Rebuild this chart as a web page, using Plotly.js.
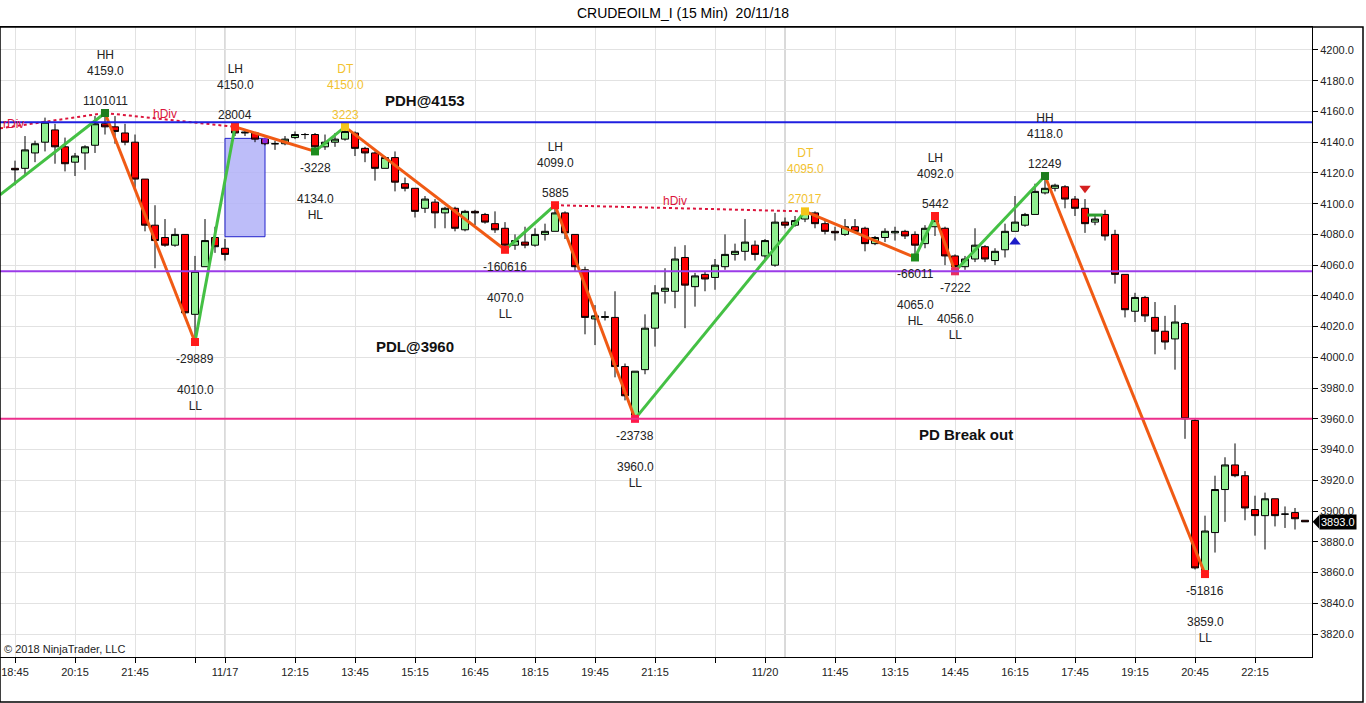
<!DOCTYPE html>
<html><head><meta charset="utf-8">
<script src="https://cdn.plot.ly/plotly-3.0.1.min.js"></script>
<style>html,body{margin:0;padding:0;background:#fff;}#chart{width:1366px;height:703px;}</style>
</head><body><div id="chart"></div>
<script>
// 15-minute bars, left to right
const openP  = [4123,4123,4133,4140,4148,4137,4127,4133,4138,4152,4150,4146,4140,4116,4086,4078,4073,4080,4028,4059,4078,4071,4149,4146,4146,4142,4139,4139,4143,4145,4145,4137,4140,4142,4146,4136,4133,4123,4130,4113,4110,4097,4101,4094,4097,4083,4095,4093,4087,4084,4073,4075,4073,4080,4082,4094,4080,4057,4025,4026,4026,3994,3961,3992,4019,4043,4043,4065,4046,4054,4052,4059,4067,4069,4073,4066,4060,4088,4086,4090,4094,4087,4082,4080,4085,4084,4074,4078,4081,4082,4080,4074,4085,4084,4066,4059,4064,4072,4063,4070,4082,4086,4093,4107,4110,4111,4103,4097,4088,4093,4080,4054,4030,4039,4026,4017,4012,4022,3959,3860,3886,3914,3930,3923,3901,3897,3908,3898,3899,3894];
const highP  = [4128,4144,4141,4156,4152,4143,4133,4138,4157,4159,4157,4152,4145,4116,4099,4090,4084,4080,4066,4090,4085,4077,4150,4148,4146,4143,4141,4144,4147,4146,4146,4145,4146,4150,4147,4137,4134,4131,4134,4117,4110,4105,4103,4098,4098,4096,4096,4094,4095,4088,4080,4085,4084,4087,4099,4095,4080,4059,4034,4030,4043,3996,3991,4028,4047,4058,4072,4073,4055,4056,4064,4080,4074,4090,4076,4077,4094,4091,4092,4095,4095,4089,4085,4090,4090,4085,4079,4084,4085,4083,4082,4086,4092,4085,4067,4066,4084,4073,4071,4087,4105,4094,4113,4118,4113,4112,4105,4103,4093,4096,4083,4054,4042,4040,4036,4027,4034,4023,3960,3897,3923,3935,3944,3926,3910,3912,3908,3903,3902,3894];
const lowP   = [4112,4118,4127,4134,4126,4121,4118,4122,4133,4145,4139,4138,4110,4082,4058,4072,4072,4026,4010,4059,4068,4063,4144,4144,4140,4138,4135,4138,4142,4142,4134,4135,4137,4141,4131,4127,4115,4123,4108,4108,4091,4094,4084,4084,4082,4082,4086,4087,4081,4070,4070,4071,4072,4076,4082,4077,4056,4015,4008,4024,3987,3972,3960,3989,4007,4035,4032,4019,4033,4043,4044,4057,4063,4063,4063,4063,4059,4084,4085,4088,4084,4080,4076,4079,4081,4069,4073,4075,4076,4077,4065,4071,4079,4060,4056,4057,4062,4062,4060,4065,4082,4085,4093,4106,4108,4097,4092,4081,4086,4076,4048,4026,4023,4023,4002,4005,3992,3947,3862,3859,3873,3893,3922,3894,3884,3875,3890,3889,3888,3893];
const closeP = [4122,4135,4139,4153,4137,4126,4131,4137,4152,4150,4147,4140,4116,4086,4076,4073,4080,4029,4056,4076,4072,4067,4146,4146.5,4142,4139,4139,4142,4145,4145,4137,4140,4142,4147,4136,4133,4123,4130,4114,4110,4095,4103,4094,4097,4084,4095,4094,4088,4083,4073,4076,4073,4080,4082,4094,4081,4059,4026,4027,4026.5,3994,3975,3991,4019,4042,4045,4064,4047,4053,4051,4060,4067,4069,4075,4067,4076,4088,4086,4089,4094,4087,4082,4081,4085,4082,4074,4078,4082,4082,4079,4073,4084,4089,4066,4059,4064,4073,4064,4069,4082,4088,4093,4108,4110,4112,4103,4097,4087,4090,4079,4054,4031,4039,4027,4017,4010,4023,3960,3863,3887,3914,3930,3923,3902,3897,3908,3897,3898,3895,3893];

const tickIdx  = [0,6,12,18,21,28,34,40,46,52,58,64,70,75,82,88,94,100,106,112,118,124];
const tickText = ['18:45','20:15','21:45','','11/17','12:15','13:45','15:15','16:45','18:15','19:45','21:15','','11/20','11:45','13:15','14:45','16:15','17:45','19:15','20:45','22:15'];
const sessionBreaks = [21, 77];

const levelPrices = [4153, 4056, 3960];
const levelColors = ['#1f1fe0', '#9b3be8', '#ec2f8c'];

// zigzag swing points (first point is where the line enters the chart)
const zigIdx   = [-1.5, 9, 18, 22, 30, 33, 49, 54, 62, 79, 90, 92, 94, 103, 119];
const zigPrice = [4105.7, 4159, 4010, 4150, 4134, 4150, 4070, 4099, 3960, 4095, 4065, 4092, 4056, 4118, 3859];
const swingType  = ['HH','LL','LH','HL','DT','LL','LH','LL','DT','HL','LH','LL','HH','LL'];
const swingCount = ['1101011','-29889','28004','-3228','3223','-160616','5885','-23738','27017','-66011','5442','-7222','12249','-51816'];
const swingDotColor = ['#1e7d1e','#ff1a1a','#ff2a1a','#1e8c1e','#f5c518','#ff1a1a','#ff1a1a','#ff1a4a','#f5c518','#1e8c1e','#ff1a1a','#e83060','#1e7d1e','#ff1a1a'];

// divergence dotted lines
const divFromIdx = [-1.5, 9, 54];
const divFromPrice = [4149, 4159, 4099];
const divToIdx = [9, 22, 79];
const divToPrice = [4159, 4150, 4095];
const divLabel = ['rDiv', 'hDiv', 'hDiv'];
const divLabelIdx = [-0.2, 15, 66];
const divLabelPrice = [4152, 4158.5, 4102];

// shaded zone
const zoneIdx = [21, 25];
const zonePrice = [4078.5, 4142.5];

// signal markers
const sigIdx = [100, 107, 108, 25];
const sigPrice = [4075, 4110, 4092.6, 4141];
const sigSymbol = ['triangle-up', 'triangle-down', 'line-ew', 'square'];
const sigColor = ['#1b1bc8', '#d42020', '#2e9e2e', '#8a2be2'];

// notes
const noteText = ['PDH@4153', 'PDL@3960', 'PD Break out'];
const noteIdx = [41, 40, 95.1];
const notePrice = [4167, 4007, 3950];

const FONT = 'Liberation Sans, Arial, sans-serif';
const GOLD = '#f2c230';
const xIdx = openP.map((_, i) => i);

const traces = [];
traces.push({
  type: 'candlestick', x: xIdx, open: openP, high: highP, low: lowP, close: closeP,
  increasing: {fillcolor: '#90ee90', line: {color: '#000', width: 1}},
  decreasing: {fillcolor: '#ff0000', line: {color: '#000', width: 1}},
  whiskerwidth: 0, hoverinfo: 'skip', showlegend: false
});

// zigzag segments
const upX = [], upY = [], dnX = [], dnY = [];
for (let i = 1; i < zigIdx.length; i++) {
  const up = zigPrice[i] > zigPrice[i - 1];
  const X = up ? upX : dnX, Y = up ? upY : dnY;
  X.push(zigIdx[i - 1], zigIdx[i], null);
  Y.push(zigPrice[i - 1], zigPrice[i], null);
}
traces.push({type: 'scatter', mode: 'lines', x: upX, y: upY, line: {color: '#44c044', width: 3}, hoverinfo: 'skip', showlegend: false});
traces.push({type: 'scatter', mode: 'lines', x: dnX, y: dnY, line: {color: '#f05a14', width: 3}, hoverinfo: 'skip', showlegend: false});

// divergence dotted lines
const dvX = [], dvY = [];
for (let i = 0; i < divFromIdx.length; i++) {
  dvX.push(divFromIdx[i], divToIdx[i], null);
  dvY.push(divFromPrice[i], divToPrice[i], null);
}
traces.push({type: 'scatter', mode: 'lines', x: dvX, y: dvY, line: {color: '#dc143c', width: 2, dash: 'dot'}, hoverinfo: 'skip', showlegend: false});

// swing dots
traces.push({type: 'scatter', mode: 'markers', x: zigIdx.slice(1), y: zigPrice.slice(1),
  marker: {symbol: 'square', size: 8, color: swingDotColor, line: {width: 0}}, hoverinfo: 'skip', showlegend: false});

// signal markers
for (let i = 0; i < sigIdx.length; i++) {
  const isLine = sigSymbol[i] === 'line-ew';
  traces.push({type: 'scatter', mode: 'markers', x: [sigIdx[i]], y: [sigPrice[i]],
    marker: {symbol: sigSymbol[i], size: isLine ? 11 : (sigSymbol[i] === 'square' ? 5 : 10), color: sigColor[i],
      line: {color: sigColor[i], width: isLine ? 3 : 0}}, hoverinfo: 'skip', showlegend: false});
}

const shapes = [];
// session break lines
sessionBreaks.forEach(b => shapes.push({type: 'line', xref: 'x', yref: 'paper', x0: b, x1: b, y0: 0, y1: 1,
  line: {color: '#b4b4b4', width: 1}, layer: 'between'}));
// zone
shapes.push({type: 'rect', xref: 'x', yref: 'y', x0: zoneIdx[0], x1: zoneIdx[1], y0: zonePrice[0], y1: zonePrice[1],
  fillcolor: 'rgba(178,178,248,0.85)', line: {color: '#2222cc', width: 1}, layer: 'between'});
// levels
levelPrices.forEach((p, i) => shapes.push({type: 'line', xref: 'paper', yref: 'y', x0: 0, x1: 1, y0: p, y1: p,
  line: {color: levelColors[i], width: 2}, layer: 'above'}));
// outer frame
shapes.push({type: 'rect', xref: 'paper', yref: 'paper', x0: 0, x1: 1363 / 1312, y0: -45 / 630, y1: 1,
  line: {color: '#000', width: 1.5}, fillcolor: 'rgba(0,0,0,0)'});
// price tag pointer
const lastClose = closeP[closeP.length - 1];
shapes.push({type: 'path', xref: 'paper', yref: 'y',
  path: `M 1.0005,${lastClose} L 1.0055,${lastClose + 4.5} L 1.0055,${lastClose - 4.5} Z`,
  fillcolor: '#000', line: {color: '#000', width: 0}});

const annotations = [];
for (let i = 1; i < zigIdx.length; i++) {
  const k = i - 1;
  const isHigh = zigPrice[i] > zigPrice[i - 1];
  const col = swingType[k] === 'DT' ? GOLD : '#222';
  const priceTxt = zigPrice[i].toFixed(1);
  annotations.push({x: zigIdx[i], y: zigPrice[i], xref: 'x', yref: 'y', showarrow: false,
    text: swingCount[k], yshift: isHigh ? 12 : -17, xanchor: 'center', yanchor: 'middle',
    font: {family: FONT, size: 12, color: col}});
  annotations.push({x: zigIdx[i], y: zigPrice[i], xref: 'x', yref: 'y', showarrow: false,
    text: isHigh ? `${swingType[k]}<br>${priceTxt}` : `${priceTxt}<br>${swingType[k]}`,
    yshift: isHigh ? 50 : -56, xanchor: 'center', yanchor: 'middle',
    font: {family: FONT, size: 12, color: col}});
}
for (let i = 0; i < divLabel.length; i++) {
  annotations.push({x: divLabelIdx[i], y: divLabelPrice[i], xref: 'x', yref: 'y', showarrow: false,
    text: divLabel[i], font: {family: FONT, size: 12, color: '#dc143c'}});
}
for (let i = 0; i < noteText.length; i++) {
  annotations.push({x: noteIdx[i], y: notePrice[i], xref: 'x', yref: 'y', showarrow: false,
    text: '<b>' + noteText[i] + '</b>', font: {family: FONT, size: 15, color: '#111'}});
}
annotations.push({x: 0, y: 0, xref: 'paper', yref: 'paper', xanchor: 'left', yanchor: 'bottom', xshift: 2, yshift: 0,
  showarrow: false, text: '© 2018 NinjaTrader, LLC', font: {family: FONT, size: 11, color: '#222'}});
annotations.push({x: 1, y: lastClose, xref: 'paper', yref: 'y', xanchor: 'left', yanchor: 'middle', xshift: 7,
  showarrow: false, text: lastClose.toFixed(1), bgcolor: '#000', borderpad: 1,
  font: {family: FONT, size: 11, color: '#fff'}});

const layout = {
  width: 1366, height: 703,
  margin: {l: 0, r: 54, t: 27, b: 46},
  paper_bgcolor: '#fff', plot_bgcolor: '#fff',
  font: {family: FONT, size: 11, color: '#222'},
  boxgap: 0.3, boxgroupgap: 0,
  title: {text: 'CRUDEOILM_I (15 Min)\u00a0\u00a020/11/18', font: {family: FONT, size: 14, color: '#000'},
    x: 0.5, xref: 'container', xanchor: 'center', y: 1 - 13 / 703, yref: 'container', yanchor: 'middle'},
  showlegend: false, hovermode: false, dragmode: false,
  xaxis: {range: [-1.5, 129.7], tickmode: 'array', tickvals: tickIdx, ticktext: tickText,
    ticks: 'outside', ticklen: 5, tickcolor: '#000', showgrid: true, gridcolor: '#e2e2e2', gridwidth: 1,
    showline: true, linecolor: '#000', linewidth: 1, mirror: true, zeroline: false,
    rangeslider: {visible: false}, tickfont: {family: FONT, size: 11, color: '#222'}, fixedrange: true},
  yaxis: {side: 'right', range: [3805.04, 4214.96], tick0: 3820, dtick: 20, tickformat: '.1f',
    ticks: 'outside', ticklen: 5, tickcolor: '#000', showgrid: true, gridcolor: '#e2e2e2',
    showline: true, linecolor: '#000', linewidth: 1, mirror: true, zeroline: false,
    tickfont: {family: FONT, size: 11, color: '#222'}, fixedrange: true},
  shapes: shapes, annotations: annotations
};

Plotly.newPlot('chart', traces, layout, {displayModeBar: false, staticPlot: true});
</script></body></html>
